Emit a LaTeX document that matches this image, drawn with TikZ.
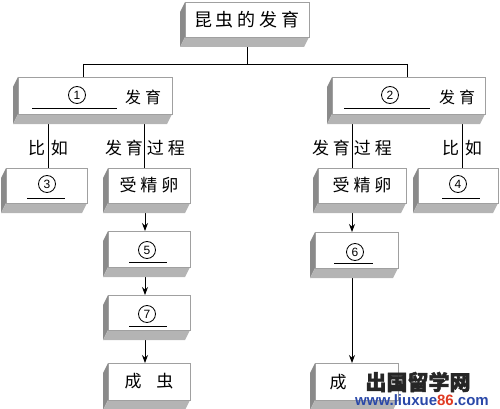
\documentclass[tikz,border=0pt]{standalone}
\usepackage{fontspec}
\setmainfont{Liberation Sans}
\newfontfamily\cjk{Noto Sans CJK SC}
\newfontfamily\wmfont[FakeBold=2]{Noto Sans CJK SC}
\usetikzlibrary{arrows.meta,calc}
\pgfdeclarelayer{conn}
\pgfdeclarelayer{faces}
\pgfsetlayers{conn,faces,main}
\definecolor{leftgray}{HTML}{8A8A8A}
\definecolor{botgray}{HTML}{B4B4B4}
\definecolor{edgegray}{HTML}{A0A0A0}
\definecolor{wmblue}{HTML}{2A48A8}
\definecolor{wmred}{HTML}{E03A22}
\newcommand{\gapc}{\hspace{4pt}}
\newcommand{\beveled}[1]{%
  \begin{pgfonlayer}{faces}
  \fill[leftgray] (#1.north west) -- ($(#1.north west)+(-5,10)$) -- ($(#1.south west)+(-5,10)$) -- (#1.south west) -- cycle;
  \fill[botgray] (#1.south west) -- (#1.south east) -- ($(#1.south east)+(-5,10)$) -- ($(#1.south west)+(-5,10)$) -- cycle;
  \filldraw[fill=white,draw=edgegray,line width=0.6pt] (#1.north west) rectangle (#1.south east);
  \end{pgfonlayer}}
\tikzset{
  boxn/.style={rectangle,outer sep=0pt,inner sep=0pt,font=\cjk\fontsize{17}{17}\selectfont},
  circ/.style={circle,draw,line width=0.8pt,inner sep=0pt,minimum size=17pt,font=\fontsize{12}{12}\selectfont},
  lbl/.style={font=\cjk\fontsize{17}{17}\selectfont,inner sep=0pt},
  conn/.style={line width=0.8pt,draw=black},
  arr/.style={conn,-{Stealth[length=8pt,width=6pt]}},
  uline/.style={line width=0.8pt}
}
\begin{document}
\begin{tikzpicture}[x=1pt,y=-1pt]
\useasboundingbox (0,0) rectangle (500,409);
% boxes (front faces)
\node[boxn,minimum width=124,minimum height=35,font=\cjk\fontsize{18}{18}\selectfont] (top) at (247,19.5) {昆\gapc 虫\gapc 的\gapc 发\gapc 育};
\node[boxn,minimum width=154,minimum height=37] (b1) at (95,95.5) {};
\node[boxn,minimum width=153,minimum height=37] (b2) at (408.5,95.5) {};
\node[boxn,minimum width=81,minimum height=35] (b3) at (46.5,185.5) {};
\node[boxn,minimum width=82,minimum height=35] (e1) at (149,185.5) {受\gapc 精\gapc 卵};
\node[boxn,minimum width=88,minimum height=35] (e2) at (362,185.5) {受\gapc 精\gapc 卵};
\node[boxn,minimum width=80,minimum height=35] (b4) at (458,185.5) {};
\node[boxn,minimum width=82,minimum height=36] (b5) at (149,249) {};
\node[boxn,minimum width=82,minimum height=35] (b7) at (149,312.5) {};
\node[boxn,minimum width=82,minimum height=37] (a1) at (149,381.5) {成\hspace{15pt}虫};
\node[boxn,minimum width=83,minimum height=36] (b6) at (356.5,250) {};
\node[boxn,minimum width=83,minimum height=37] (a2) at (356.5,381.5) {};
\foreach \n in {top,b1,b2,b3,e1,e2,b4,b5,b7,a1,b6,a2} {\beveled{\n}}
% box contents
\node[circ] (c1) at (77,95) {1};
\draw[uline] (32,108) -- (117,108);
\node[lbl,font=\cjk\fontsize{16}{16}\selectfont] (t1) at (143,97) {发\gapc 育};
\node[circ] (c2) at (390,95) {2};
\draw[uline] (344,108) -- (430,108);
\node[lbl,font=\cjk\fontsize{16}{16}\selectfont] (t2) at (457,97) {发\gapc 育};
\node[circ] (c3) at (47,184) {3};
\draw[uline] (27,198) -- (65,198);
\node[circ] (c4) at (458,184) {4};
\draw[uline] (442,198) -- (480,198);
\node[circ] (c5) at (147,250) {5};
\draw[uline] (129,262) -- (167,262);
\node[circ] (c7) at (147,314) {7};
\draw[uline] (129,326) -- (167,326);
\node[circ] (c6) at (355,252) {6};
\draw[uline] (334,263) -- (373,263);
\node[lbl] (t3) at (338,382) {成};
% labels
\node[lbl] (l1) at (48,148) {比\hspace{6pt}如};
\node[lbl] (l2) at (145,148) {发\gapc 育\gapc 过\gapc 程};
\node[lbl] (l3) at (352,148) {发\gapc 育\gapc 过\gapc 程};
\node[lbl] (l4) at (462,148) {比\hspace{6pt}如};
% connectors
\coordinate (hl) at (83,64);
\coordinate (hr) at (407,64);
\coordinate (xl) at (145,0);
\coordinate (xr) at (352,0);
\begin{pgfonlayer}{conn}
\draw[conn] (top.south) -- (top.south |- hl);
\draw[conn] (hl) -- (hr);
\draw[conn] (hl) -- (hl |- b1.north);
\draw[conn] (hr) -- (hr |- b2.north);
\draw[conn] (48,115) -- (48,168);
\draw[conn] (144,115) -- (144,168);
\draw[conn] (352,115) -- (352,168);
\draw[conn] (462,115) -- (462,168);
\draw[arr] (xl |- e1.south) -- (xl |- b5.north);
\draw[arr] (xl |- b5.south) -- (xl |- b7.north);
\draw[arr] (xl |- b7.south) -- (xl |- a1.north);
\draw[arr] (xr |- e2.south) -- (xr |- b6.north);
\draw[arr] (xr |- b6.south) -- (xr |- a2.north);
\end{pgfonlayer}
% watermark
\node[inner sep=0pt,text=black!85,font=\wmfont\fontsize{21}{21}\selectfont\bfseries] (wm1) at (418,382) {出国留学网};
\node[inner sep=0pt,text=wmblue,font=\bfseries\fontsize{15}{15}\selectfont] (wm2) at (422,400) {www.liuxue\textcolor{wmred}{86}.com};
\end{tikzpicture}
\end{document}
